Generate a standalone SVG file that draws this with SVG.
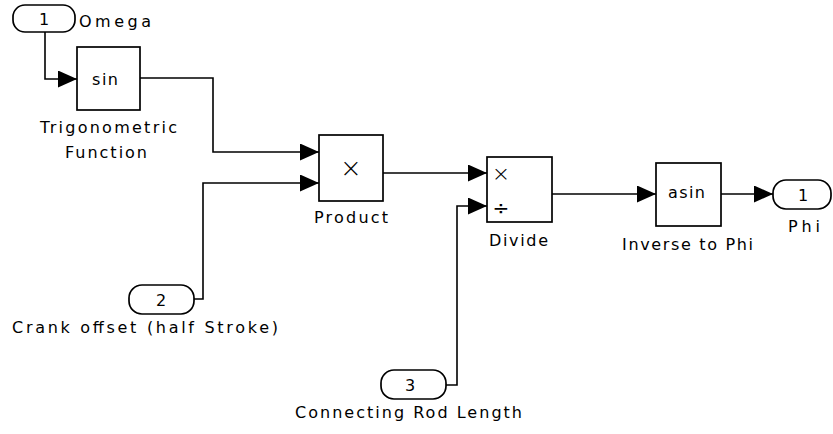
<svg xmlns="http://www.w3.org/2000/svg" width="833" height="434" viewBox="0 0 833 434">
<style>
.blk{fill:#fff;stroke:#000;stroke-width:1.7}
.port{fill:#fff;stroke:#000;stroke-width:1.7}
.ln{fill:none;stroke:#000;stroke-width:1.6}
text{font-family:"DejaVu Sans","Liberation Sans",Arial,sans-serif;font-size:16px;fill:#000}
.c{text-anchor:middle}
.sym{font-family:"DejaVu Sans",sans-serif;font-weight:200}
</style>
<defs>
<marker id="ah" viewBox="0 0 19 17" refX="19" refY="8.5" markerWidth="19" markerHeight="17" markerUnits="userSpaceOnUse" orient="auto">
<path d="M0,0 L19,8.5 L0,17 z" fill="#000"/>
</marker>
</defs>
<rect width="833" height="434" fill="#fff"/>
<g id="connectors">
<path class="ln" d="M45,32 V79 H77" marker-end="url(#ah)"/>
<path class="ln" d="M140,78 H213 V152 H319" marker-end="url(#ah)"/>
<path class="ln" d="M194,299 H203 V183 H319" marker-end="url(#ah)"/>
<path class="ln" d="M383,173 H487" marker-end="url(#ah)"/>
<path class="ln" d="M446,385 H457 V206 H487" marker-end="url(#ah)"/>
<path class="ln" d="M552,194 H656" marker-end="url(#ah)"/>
<path class="ln" d="M721,194 H773" marker-end="url(#ah)"/>
</g>
<g id="inport1">
<rect class="port" x="13" y="5" width="62" height="27" rx="12" ry="12"/>
<text class="c" x="44" y="25">1</text>
<text x="79" y="27" textLength="72" lengthAdjust="spacing">Omega</text>
</g>
<g id="trig">
<rect class="blk" x="77" y="47" width="63" height="63"/>
<text x="92" y="85" textLength="26" lengthAdjust="spacing">sin</text>
<text x="40" y="133" textLength="137" lengthAdjust="spacing">Trigonometric</text>
<text x="65" y="158" textLength="82" lengthAdjust="spacing">Function</text>
</g>
<g id="inport2">
<rect class="port" x="129" y="285" width="65" height="29" rx="13" ry="13"/>
<text class="c" x="161" y="306">2</text>
<text x="12" y="333" textLength="266" lengthAdjust="spacing">Crank offset (half Stroke)</text>
</g>
<g id="product">
<rect class="blk" x="319" y="135" width="64" height="66"/>
<text class="c sym" x="351" y="177" style="font-size:26px">×</text>
<text x="314" y="223" textLength="74" lengthAdjust="spacing">Product</text>
</g>
<g id="inport3">
<rect class="port" x="381" y="370" width="65" height="29" rx="13" ry="13"/>
<text class="c" x="410" y="391">3</text>
<text x="295" y="418" textLength="227" lengthAdjust="spacing">Connecting Rod Length</text>
</g>
<g id="divide">
<rect class="blk" x="487" y="157" width="65" height="65"/>
<text class="c sym" x="501" y="181" style="font-size:22px">×</text>
<text class="c" x="501" y="215" style="font-size:20px">÷</text>
<text x="489" y="246" textLength="59" lengthAdjust="spacing">Divide</text>
</g>
<g id="asin">
<rect class="blk" x="656" y="163" width="65" height="63"/>
<text x="668" y="198" textLength="37" lengthAdjust="spacing">asin</text>
<text x="622" y="250" textLength="131" lengthAdjust="spacing">Inverse to Phi</text>
</g>
<g id="outport1">
<rect class="port" x="773" y="180" width="58" height="29" rx="13" ry="13"/>
<text class="c" x="803" y="201">1</text>
<text x="788" y="232" textLength="32" lengthAdjust="spacing">Phi</text>
</g>
</svg>
